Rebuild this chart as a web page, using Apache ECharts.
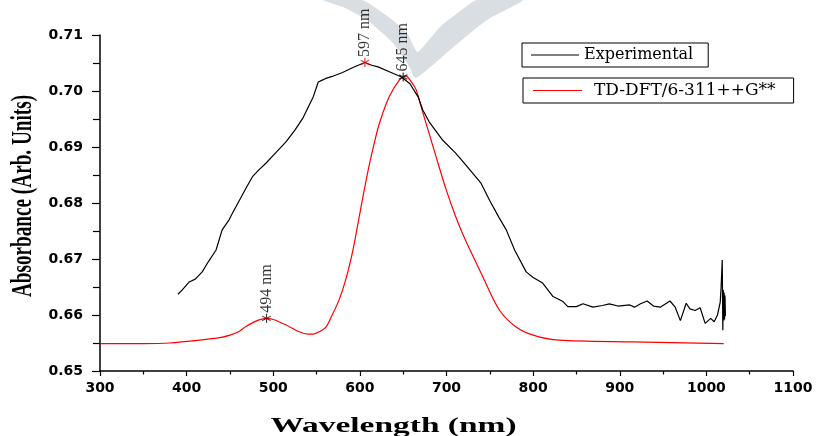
<!DOCTYPE html>
<html><head><meta charset="utf-8">
<script src="https://cdn.jsdelivr.net/npm/echarts@6/dist/echarts.min.js"></script>
<style>html,body{margin:0;padding:0;background:#fff}#c{width:818px;height:436px}</style>
</head><body><div id="c"></div>
<script>
// ---- data ----
const expWavelength = [390,395,403,410,418,425,434,441,449,453,461,468,476,484,491.5,500,514.7,525,534,540,546,552,556,560,568,580,592,605.8,613.6,621,634.7,648,657.8,667.4,672.6,680,695.7,710,720,730.4,740,749.7,761,769,778.6,792,800,811,823,834.5,840,850,857.6,869,880,888,898,911.6,917,924,931.6,939,946.7,958,964,970,976.7,981,987,992.8,998.6,1000.6,1005,1009,1012.8,1016,1017,1018.3,1019,1019.5,1020,1020.5,1021,1021.5,1022];
const expAbsorbance = [0.6637,0.6645,0.6659,0.6664,0.6677,0.6695,0.6716,0.6752,0.677,0.6782,0.6805,0.6825,0.6847,0.686,0.6871,0.6885,0.6909,0.693,0.6951,0.697,0.6989,0.7016,0.7019,0.7022,0.7026,0.7033,0.7042,0.7051,0.7046,0.7043,0.7034,0.7025,0.7013,0.6989,0.6966,0.6945,0.6912,0.689,0.6872,0.6853,0.6835,0.6805,0.6773,0.6752,0.6716,0.6677,0.6667,0.6657,0.6633,0.6624,0.6615,0.6615,0.662,0.6614,0.6617,0.662,0.6616,0.6618,0.6614,0.662,0.6625,0.6616,0.6614,0.6625,0.6614,0.659,0.6621,0.6611,0.6608,0.6613,0.6585,0.6582,0.6594,0.6588,0.66,0.6623,0.665,0.6698,0.6573,0.6645,0.659,0.664,0.6592,0.6635,0.6598];

const dftWavelength = [300,350,380,415,440,450,460,468,480,492,500,515,530,540,546,553,561,568,576,584,592,598,604,610,616,622.5,634,645.7,653,660,665,672,680,690,700,710,720,730,742,761,780,800,830,915,1020];
const dftAbsorbance = [0.6549,0.6549,0.655,0.6555,0.656,0.6564,0.657,0.6579,0.6589,0.6594,0.6592,0.6582,0.657,0.6566,0.6566,0.657,0.6579,0.66,0.6627,0.6665,0.6716,0.6765,0.6815,0.6862,0.6903,0.6942,0.699,0.702,0.7027,0.7015,0.7002,0.6965,0.6924,0.6872,0.6822,0.6778,0.674,0.6707,0.6668,0.6609,0.6579,0.6564,0.6555,0.6552,0.6549];

const peakWavelength = [605.8, 650, 492.2];
const peakAbsorbance = [0.7051, 0.7025, 0.6594];
const peakLabels = ['597 nm', '645 nm', '494 nm'];
const peakColors = ['#ff0000', '#000000', '#000000'];

const seriesNames = ['Experimental', 'TD-DFT/6-311++G**'];
const xTitle = 'Wavelength (nm)';
const yTitle = 'Absorbance (Arb. Units)';
const xRange = [300, 1100, 100];
const yRange = [0.65, 0.71, 0.01];

// ---- chart ----
const zip = (a, b) => a.map((v, i) => [v, b[i]]);
const asterisk = 'path://M4.4,0L5.6,0L5.6,10L4.4,10Z M9.03,8.02L9.63,6.98L0.97,1.98L0.37,3.02Z M0.37,6.98L0.97,8.02L9.63,3.02L9.03,1.98Z';
const legendText = {fontFamily: 'DejaVu Serif', fontSize: 16, color: '#000', lineHeight: 16};

const chart = echarts.init(document.getElementById('c'), null, {renderer: 'canvas'});
chart.setOption({
  animation: false,
  backgroundColor: '#fff',
  grid: {left: 100, top: 35, width: 693, height: 336, containLabel: false},
  graphic: {elements: [
    {type: 'polygon', z: -10, silent: true,
     shape: {smooth: 0.2, points: [[323,0],[345,8],[367,20],[393,43],[405,60],[410,68],[415,78],[427,70],[450,50],[487,20],[523,0],[477,0],[455,15],[440,27],[423,47],[417,52],[407,33],[395,22],[383,13],[362,0]]},
     style: {fill: '#d8dee1'}},
    {type: 'text', x: 23, y: 196, rotation: Math.PI / 2, scaleX: 0.64, silent: true,
     style: {text: yTitle, font: 'bold 30px "Liberation Serif"', fill: '#000', align: 'center', verticalAlign: 'middle'}},
    {type: 'text', x: 393.5, y: 426.5, scaleX: 1.52, silent: true,
     style: {text: xTitle, font: 'bold 22px "Liberation Serif"', fill: '#000', align: 'center', verticalAlign: 'middle'}}
  ]},
  legend: [
    {data: [seriesNames[0]], left: 522, top: 43, orient: 'horizontal', selectedMode: false,
     icon: 'rect', borderColor: '#000', borderWidth: 1, padding: [4, 15, 4, 9], itemWidth: 48, itemHeight: 1.2,
     textStyle: legendText},
    {data: [seriesNames[1]], left: 523, top: 78, orient: 'horizontal', selectedMode: false,
     icon: 'rect', borderColor: '#000', borderWidth: 1, padding: [4, 18, 4, 10], itemWidth: 49, itemHeight: 1.2,
     textStyle: Object.assign({}, legendText, {fontSize: 17, padding: [0, 0, 0, 7]})}
  ],
  xAxis: {
    type: 'value', min: xRange[0], max: xRange[1], interval: xRange[2],
    axisLine: {show: true, onZero: false, lineStyle: {color: '#000', width: 1.5}},
    axisTick: {show: true, length: 5, lineStyle: {color: '#000', width: 1.2}},
    minorTick: {show: true, splitNumber: 2, length: 3.5, lineStyle: {color: '#000', width: 1.2}},
    splitLine: {show: false},
    axisLabel: {margin: 10, fontFamily: 'DejaVu Sans', fontWeight: 'bold', fontSize: 14, color: '#000',
                formatter: v => String(v)}
  },
  yAxis: {
    type: 'value', min: yRange[0], max: yRange[1], interval: yRange[2],
    axisLine: {show: true, lineStyle: {color: '#000', width: 1.5}},
    axisTick: {show: true, length: 8, lineStyle: {color: '#000', width: 1.2}},
    minorTick: {show: true, splitNumber: 2, length: 7, lineStyle: {color: '#000', width: 1.2}},
    splitLine: {show: false},
    axisLabel: {margin: 17, fontFamily: 'DejaVu Sans', fontWeight: 'bold', fontSize: 14, color: '#000',
                formatter: v => v.toFixed(2)}
  },
  series: [
    {name: seriesNames[0], type: 'line', data: zip(expWavelength, expAbsorbance),
     symbol: 'none', color: '#000', lineStyle: {color: '#000', width: 1.2}, z: 3},
    {name: seriesNames[1], type: 'line', data: zip(dftWavelength, dftAbsorbance),
     symbol: 'none', smooth: 0.3, color: '#ff0000', lineStyle: {color: '#ff0000', width: 1.2}, z: 2},
    {name: 'peaks', type: 'scatter', symbol: asterisk, symbolSize: 9, z: 5,
     data: peakWavelength.map((x, i) => ({
       value: [x, peakAbsorbance[i]],
       itemStyle: {color: peakColors[i]},
       label: {formatter: peakLabels[i]}
     })),
     label: {show: true, position: 'top', distance: -3, rotate: 90, align: 'left', verticalAlign: 'middle',
             offset: [4, 0], fontFamily: 'Liberation Serif', fontSize: 16, color: '#000'}}
  ]
});
</script>
</body></html>
